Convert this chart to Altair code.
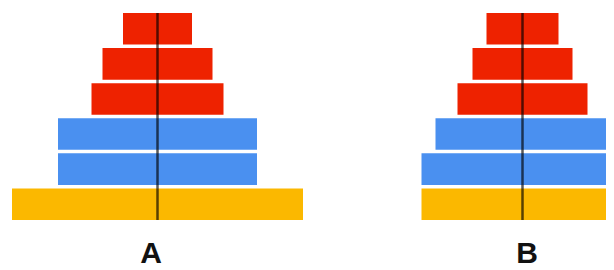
import altair as alt
import pandas as pd

# ---- data (half-widths of each tier, top tier first) ----
pyramids = ["A", "B"]
levels = [1, 2, 3, 4, 5, 6]
groups = ["top", "top", "top", "middle", "middle", "base"]
half_a = [34.5, 55, 66, 99.5, 99.5, 145.5]
half_b = [36, 50, 65, 87, 101, 101]

# ---- layout (not data) ----
W, H = 598, 207
CENTER = {"A": 149.5, "B": 514.5}
LABEL_X = {"A": 143, "B": 519}
LABEL_Y = 250

rows = []
for p, halves in zip(pyramids, [half_a, half_b]):
    for lv, g, h in zip(levels, groups, halves):
        rows.append({"pyramid": p, "level": lv, "group": g,
                     "x0": CENTER[p] - h, "x1": CENTER[p] + h})
df = pd.DataFrame(rows)
centers = pd.DataFrame({"pyramid": pyramids, "center": [CENTER[p] for p in pyramids],
                        "lx": [LABEL_X[p] for p in pyramids]})

xs = alt.Scale(domain=[0, W], nice=False, zero=False)

bars = alt.Chart(df).mark_rect(clip=True).encode(
    x=alt.X("x0:Q", scale=xs, axis=None),
    x2="x1:Q",
    y=alt.Y("level:O", scale=alt.Scale(paddingInner=0.1, paddingOuter=0), axis=None),
    color=alt.Color("group:N",
                    scale=alt.Scale(domain=["top", "middle", "base"],
                                    range=["#ee2200", "#4a90f0", "#fbb800"]),
                    legend=None),
)

rule = alt.Chart(centers).mark_rule(color="black", opacity=0.65, strokeWidth=2.5).encode(
    x=alt.X("center:Q", scale=xs),
    y=alt.value(0),
    y2=alt.value(H),
)

labels = alt.Chart(centers).mark_text(
    font="Liberation Sans Narrow, Liberation Sans, Arial, sans-serif",
    fontSize=30, fontWeight="bold", align="center", baseline="alphabetic", color="#111111",
).encode(
    x=alt.X("lx:Q", scale=xs),
    y=alt.value(LABEL_Y),
    text="pyramid:N",
)

chart = alt.layer(bars, rule, labels).properties(
    width=W, height=H,
    padding={"top": 5, "bottom": 50, "left": 0, "right": 0},
    autosize=alt.AutoSizeParams(type="none"),
    background="white",
).configure_view(stroke=None)

chart.save("out.html", embed_options={"renderer": "svg", "actions": False})
